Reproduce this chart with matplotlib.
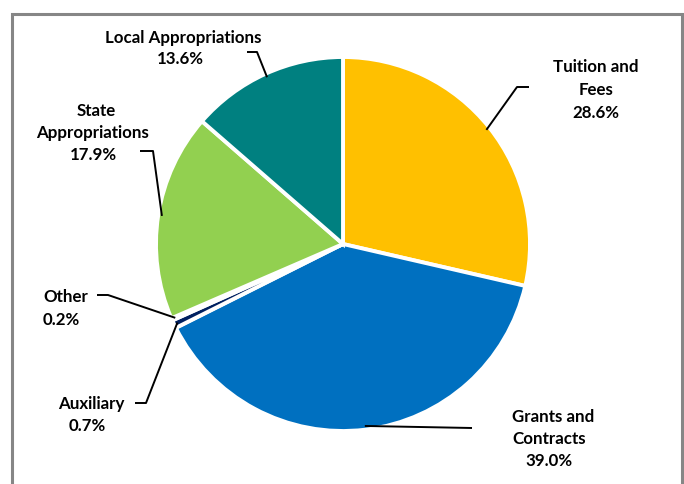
import numpy as np
import matplotlib
matplotlib.use("Agg")
import matplotlib.pyplot as plt

# ---- data ----
categories = ["Tuition and Fees", "Grants and Contracts", "Auxiliary", "Other",
              "State Appropriations", "Local Appropriations"]
shares = [28.6, 39.0, 0.7, 0.2, 17.9, 13.6]
colors = ["#FFC000", "#0070C0", "#002060", "#BFBFBF", "#92D050", "#008080"]

W, H = 684, 485
fig = plt.figure(figsize=(W / 100, H / 100), dpi=100)
ax = fig.add_axes([0, 0, 1, 1])

def Y(yp):
    return H - yp

cx, cy, R = 343, Y(245), 187
wedges, _ = ax.pie(shares, colors=colors, startangle=90, counterclock=False,
                   center=(cx, cy), radius=R,
                   wedgeprops=dict(edgecolor="white", linewidth=2.8))
ax.set_xlim(0, W)
ax.set_ylim(0, H)
ax.set_aspect("equal")
ax.axis("off")

# frame
fc = "#868686"
ax.plot([12, 12, 682, 682], [0, Y(15), Y(15), 0], color=fc, lw=2.2,
        solid_joinstyle="miter", clip_on=False)

font = dict(family=["Lato", "DejaVu Sans"], fontweight="bold", fontsize=12.2,
            color="black")

# label text lines: (text, x, y_pix, ha)
label_lines = {
    "Tuition and Fees": [("Tuition and", 596, 67, "center"), ("Fees", 596, 90, "center"),
                         (f"{shares[0]:.1f}%", 596, 113, "center")],
    "Grants and Contracts": [("Grants and", 512, 417, "left"), ("Contracts", 512, 439, "left"),
                             (f"{shares[1]:.1f}%", 549, 461, "center")],
    "Auxiliary": [("Auxiliary", 91, 404, "center"), (f"{shares[2]:.1f}%", 87, 426, "center")],
    "Other": [("Other", 43, 297, "left"), (f"{shares[3]:.1f}%", 43, 320, "left")],
    "State Appropriations": [("State", 96, 111, "center"), ("Appropriations", 93, 133, "center"),
                             (f"{shares[4]:.1f}%", 93, 155, "center")],
    "Local Appropriations": [("Local Appropriations", 183, 38, "center"),
                             (f"{shares[5]:.1f}%", 180, 59, "center")],
}
for cat, lines in label_lines.items():
    for t, x, y, ha in lines:
        ax.text(x, Y(y), t, ha=ha, va="center", **font)

# leader lines: start points (pixel) -> elbow -> wedge mid-angle
leader_pts = {
    "Tuition and Fees": [(529, 88), (517, 88)],
    "Grants and Contracts": [(472, 429)],
    "Auxiliary": [(135, 404), (146, 404)],
    "Other": [(97, 296), (108, 296)],
    "State Appropriations": [(140, 152), (153, 152)],
    "Local Appropriations": [(247, 53), (257, 53)],
}
for w, cat in zip(wedges, categories):
    mid = np.deg2rad((w.theta1 + w.theta2) / 2)
    rr = R * 0.98
    ex, ey = cx + rr * np.cos(mid), cy + rr * np.sin(mid)
    pts = leader_pts[cat]
    xs = [p[0] for p in pts] + [ex]
    ys = [Y(p[1]) for p in pts] + [ey]
    ax.plot(xs, ys, color="black", lw=1.4, solid_capstyle="butt")

fig.savefig("out.png", dpi=100)
